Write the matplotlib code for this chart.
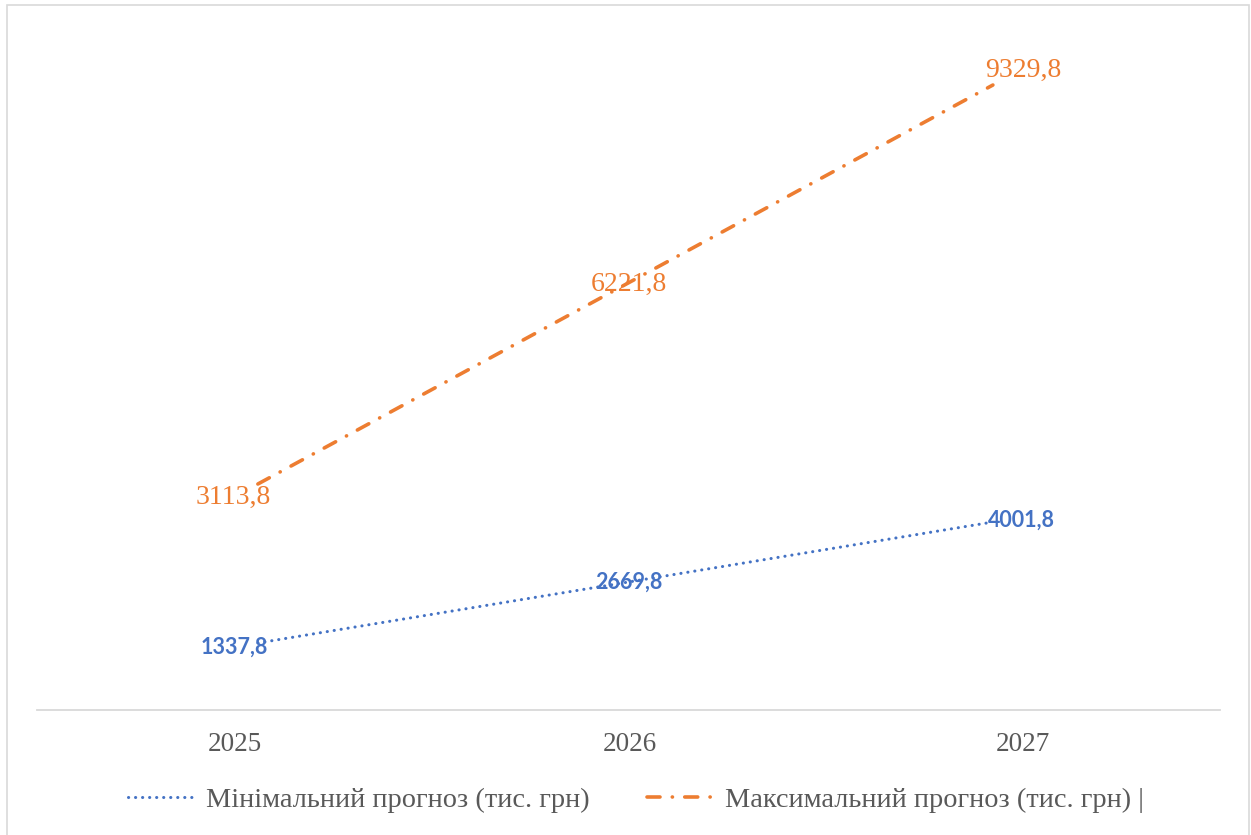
import matplotlib.pyplot as plt
from matplotlib.patches import Rectangle
from matplotlib.transforms import Affine2D

years = ['2025', '2026', '2027']
min_forecast = [1337.8, 2669.8, 4001.8]
max_forecast = [3113.8, 6221.8, 9329.8]
min_name = 'Мінімальний прогноз (тис. грн)'
max_name = 'Максимальний прогноз (тис. грн) |'

blue = '#4472C4'
orange = '#ED7D31'
grey = '#595959'
serif = ['Liberation Serif', 'DejaVu Serif']

W, H = 1251, 835
fig = plt.figure(figsize=(W / 100, H / 100), dpi=100)
fig.patch.set_facecolor('white')

# axes box in pixels: left 37, right 1220, top 30, bottom 710
ax = fig.add_axes([37 / W, 1 - 710 / H, (1220 - 37) / W, (710 - 30) / H])
ax2 = ax.twinx()

x = list(range(len(years)))

l_max, = ax.plot(x, max_forecast, color=orange, lw=2.6,
                 linestyle=(0, (3.6, 3.4, 0.05, 3.4)),
                 dash_capstyle='round', label=max_name)
l_min, = ax2.plot(x, min_forecast, color=blue, lw=2.2,
                  linestyle=(0, (0.05, 2.25)),
                  dash_capstyle='round', label=min_name)

ax.set_xlim(-0.601, 2.618)
ax.set_ylim(-407, 10187)
ax2.set_ylim(-137, 14834)

# value labels
max_off = [(-25, -13), (3, 0), (30, 15)]
min_off = [(-24, -4), (3, 0), (29, 2)]
for i, v in enumerate(max_forecast):
    ax.annotate(f'{v:.1f}'.replace('.', ','), (x[i], v), xytext=max_off[i],
                textcoords='offset pixels', ha='center', va='center',
                color=orange, fontsize=20, family=serif)
for i, v in enumerate(min_forecast):
    ax2.annotate(f'{v:.1f}'.replace('.', ','), (x[i], v), xytext=min_off[i],
                 textcoords='offset pixels', ha='center', va='center',
                 color=blue, fontsize=15.5, family='Lato', fontweight='bold')

for a in (ax, ax2):
    for s in ('top', 'left', 'right', 'bottom'):
        a.spines[s].set_visible(False)
    a.set_yticks([])
ax.spines['bottom'].set_visible(True)
ax.spines['bottom'].set_color('#D9D9D9')
ax.spines['bottom'].set_linewidth(1.3)

ax.set_xticks(x, years)
ax.tick_params(axis='x', length=0, pad=16, labelsize=19.5, labelcolor=grey)
tick_shift = [-23, 4, 30]
for lab, dx in zip(ax.get_xticklabels(), tick_shift):
    lab.set_family(serif)
    lab.set_transform(lab.get_transform() + Affine2D().translate(dx, 0))

fig.legend([l_min, l_max], [min_name, max_name], loc='center',
           bbox_to_anchor=(636 / W, 1 - 800 / H), ncol=2, frameon=False,
           prop={'family': serif, 'size': 20.4}, labelcolor=grey,
           handlelength=2.4, handletextpad=0.35, columnspacing=2.0)

# light frame around the chart area
fig.patches.append(Rectangle((7 / W, -0.02), (1249 - 7) / W, 1.02 - 5 / H,
                             transform=fig.transFigure, fill=False,
                             edgecolor='#D9D9D9', lw=1.2))

fig.savefig('out.png', dpi=100)
